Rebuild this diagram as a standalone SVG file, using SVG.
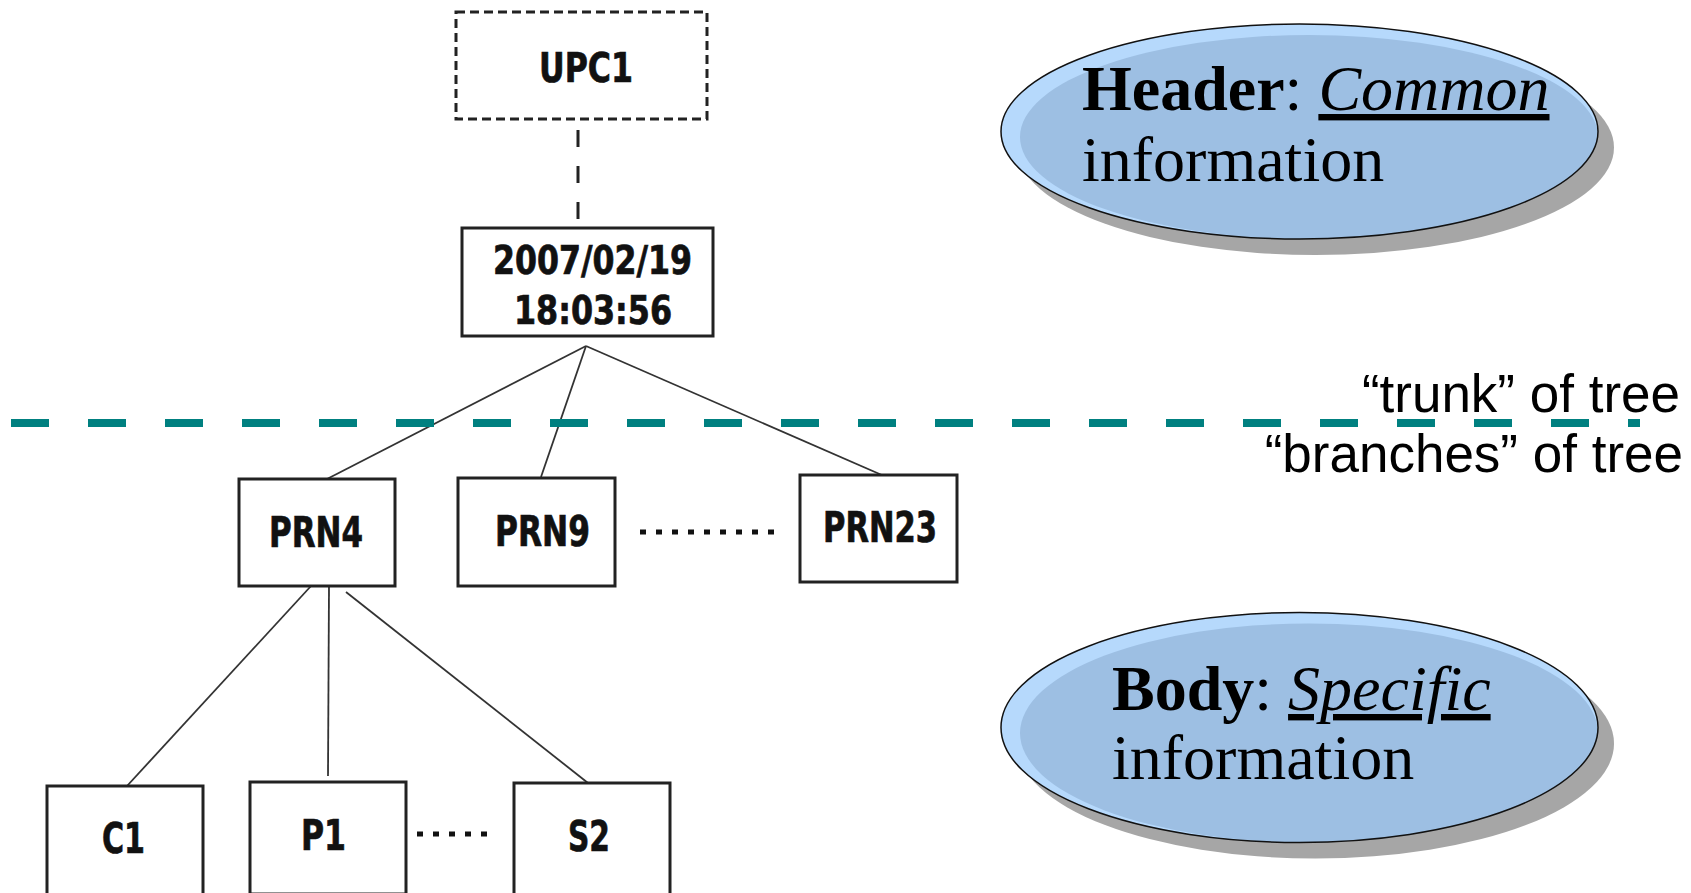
<svg xmlns="http://www.w3.org/2000/svg" width="1691" height="893" viewBox="0 0 1691 893">
<style>
.box{fill:#fff;stroke:#222;stroke-width:3}
.lbl{font-family:"DejaVu Sans Condensed","DejaVu Sans",sans-serif;font-weight:bold;font-stretch:condensed;fill:#111;stroke:#111;stroke-width:0.7}
.ln{stroke:#333;stroke-width:1.8;fill:none}
.dots{stroke:#111;stroke-width:5;stroke-dasharray:6 10;fill:none}
.big{font-family:"Liberation Serif","Times New Roman",serif;font-size:64px;fill:#000}
.note{font-family:"Liberation Sans",Arial,sans-serif;font-size:53px;fill:#000;text-anchor:end}
.shadow{fill:#a6a6a6}
.rim{fill:#b6d9fc}
.inner{fill:#9dbfe3}
.outline{fill:none;stroke:#111;stroke-width:1.5}
</style>
<defs>
<clipPath id="clipH"><ellipse cx="1299.5" cy="131.5" rx="298.5" ry="107.5"/></clipPath>
<clipPath id="clipB"><ellipse cx="1299.5" cy="727.5" rx="298.5" ry="115"/></clipPath>
</defs>
<rect width="1691" height="893" fill="#fff"/>

<g id="connectors">
<line x1="578" y1="130" x2="578" y2="222" stroke="#222" stroke-width="3" stroke-dasharray="17 19"/>
<line class="ln" x1="586" y1="346" x2="327" y2="479"/>
<line class="ln" x1="586" y1="346" x2="541" y2="477"/>
<line class="ln" x1="586" y1="346" x2="891" y2="479"/>
<line class="ln" x1="311" y1="586" x2="127" y2="786"/>
<line class="ln" x1="329" y1="586" x2="328" y2="776"/>
<line class="ln" x1="346" y1="592" x2="588" y2="783"/>
<line class="dots" x1="640" y1="532" x2="776" y2="532"/>
<line class="dots" x1="417" y1="834" x2="490" y2="834"/>
</g>

<g id="divider">
<line x1="11" y1="423" x2="1640" y2="423" stroke="#008080" stroke-width="8" stroke-dasharray="38 39"/>
<text class="note" x="1680" y="412">“trunk” of tree</text>
<text class="note" x="1683" y="472">“branches” of tree</text>
</g>

<g id="upc1">
<rect x="456" y="12" width="251" height="107" fill="#fff" stroke="#222" stroke-width="3" stroke-dasharray="9 5"/>
<text class="lbl" x="539" y="82" font-size="41" textLength="94" lengthAdjust="spacingAndGlyphs">UPC1</text>
</g>

<g id="date">
<rect class="box" x="462" y="228" width="251" height="108"/>
<text class="lbl" x="493" y="274" font-size="39" textLength="199" lengthAdjust="spacingAndGlyphs">2007/02/19</text>
<text class="lbl" x="514" y="324" font-size="39" textLength="158" lengthAdjust="spacingAndGlyphs">18:03:56</text>
</g>

<g id="prn4">
<rect class="box" x="239" y="479" width="156" height="107"/>
<text class="lbl" x="269" y="547" font-size="42" textLength="94" lengthAdjust="spacingAndGlyphs">PRN4</text>
</g>
<g id="prn9">
<rect class="box" x="458" y="478" width="157" height="108"/>
<text class="lbl" x="495" y="546" font-size="42" textLength="95" lengthAdjust="spacingAndGlyphs">PRN9</text>
</g>
<g id="prn23">
<rect class="box" x="800" y="475" width="157" height="107"/>
<text class="lbl" x="823" y="542" font-size="42" textLength="114" lengthAdjust="spacingAndGlyphs">PRN23</text>
</g>

<g id="c1">
<rect class="box" x="47" y="786" width="156" height="110"/>
<text class="lbl" x="102" y="853" font-size="42" textLength="43" lengthAdjust="spacingAndGlyphs">C1</text>
</g>
<g id="p1">
<rect class="box" x="250" y="782" width="156" height="112"/>
<text class="lbl" x="301" y="850" font-size="42" textLength="45" lengthAdjust="spacingAndGlyphs">P1</text>
</g>
<g id="s2">
<rect class="box" x="514" y="783" width="156" height="112"/>
<text class="lbl" x="568" y="851" font-size="42" textLength="42" lengthAdjust="spacingAndGlyphs">S2</text>
</g>

<g id="header">
<ellipse class="shadow" cx="1315.5" cy="147.5" rx="298.5" ry="107.5"/>
<ellipse class="rim" cx="1299.5" cy="131.5" rx="298.5" ry="107.5"/>
<ellipse class="inner" cx="1309" cy="137" rx="289" ry="102" clip-path="url(#clipH)"/>
<ellipse class="outline" cx="1299.5" cy="131.5" rx="298.5" ry="107.5"/>
<text class="big" x="1082" y="110"><tspan font-weight="bold">Header</tspan>: <tspan font-style="italic" text-decoration="underline">Common</tspan></text>
<text class="big" x="1082" y="181">information</text>
</g>

<g id="body">
<ellipse class="shadow" cx="1315.5" cy="743.5" rx="298.5" ry="115"/>
<ellipse class="rim" cx="1299.5" cy="727.5" rx="298.5" ry="115"/>
<ellipse class="inner" cx="1309" cy="733" rx="289" ry="109.5" clip-path="url(#clipB)"/>
<ellipse class="outline" cx="1299.5" cy="727.5" rx="298.5" ry="115"/>
<text class="big" x="1112" y="710"><tspan font-weight="bold">Body</tspan>: <tspan font-style="italic" text-decoration="underline">Specific</tspan></text>
<text class="big" x="1112" y="779">information</text>
</g>
</svg>
